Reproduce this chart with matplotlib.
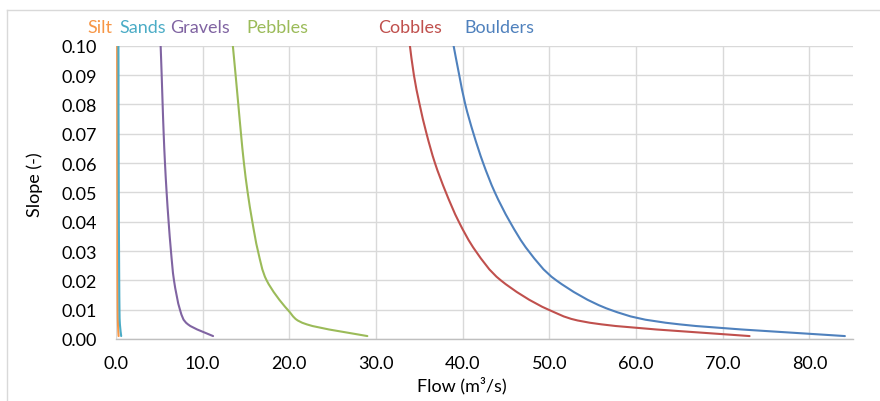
import matplotlib
matplotlib.use("Agg")
import matplotlib.pyplot as plt
from matplotlib.ticker import FormatStrFormatter
from matplotlib.lines import Line2D
from matplotlib.path import Path
from matplotlib.patches import PathPatch

plt.rcParams['font.family'] = ['Lato', 'DejaVu Sans']

# ---- data ----
series_names = ["Silt", "Sands", "Gravels", "Pebbles", "Cobbles", "Boulders"]

slope = [0.10, 0.09, 0.08, 0.07, 0.06, 0.05, 0.04, 0.03, 0.02, 0.01, 0.005, 0.001]

silt_flow = [0.14, 0.14, 0.15, 0.15, 0.15, 0.16, 0.17, 0.17, 0.18, 0.20, 0.23, 0.30]
sands_flow = [0.28, 0.29, 0.29, 0.30, 0.31, 0.32, 0.33, 0.35, 0.37, 0.40, 0.45, 0.60]
gravels_flow = [5.15, 5.27, 5.38, 5.50, 5.65, 5.84, 6.07, 6.34, 6.69, 7.38, 8.3, 11.2]
pebbles_flow = [13.48, 13.8, 14.11, 14.42, 14.76, 15.19, 15.73, 16.38, 17.38, 19.8, 22.0, 29.0]
cobbles_flow = [33.91, 34.37, 35.03, 35.83, 36.80, 38.06, 39.55, 41.5, 44.4, 49.9, 56.0, 73.1]
boulders_flow = [38.95, 39.6, 40.3, 41.25, 42.36, 43.71, 45.44, 47.6, 50.8, 57.0, 65.0, 84.1]

x_ticks = [0, 10, 20, 30, 40, 50, 60, 70, 80]
y_ticks = [0.00, 0.01, 0.02, 0.03, 0.04, 0.05, 0.06, 0.07, 0.08, 0.09, 0.10]

# ---- styling ----
colors = {"Silt": "#F79646", "Sands": "#4BACC6", "Gravels": "#8064A2",
          "Pebbles": "#9BBB59", "Cobbles": "#C0504D", "Boulders": "#4F81BD"}
flows = {"Silt": silt_flow, "Sands": sands_flow, "Gravels": gravels_flow,
         "Pebbles": pebbles_flow, "Cobbles": cobbles_flow, "Boulders": boulders_flow}
# label centers in figure pixels (layout only)
label_px = {"Silt": 100, "Sands": 142.5, "Gravels": 200, "Pebbles": 277,
            "Cobbles": 410, "Boulders": 499.5}

W, H = 880, 402
L, R, T, B = 116, 852.7, 46.7, 340
FS = 13


def smooth_path(xs, ys):
    """Spreadsheet-style 'smoothed line' through the points, drawn as
    cubic Bezier segments (Catmull-Rom control points)."""
    pts = list(zip(xs, ys))
    n = len(pts)
    verts = [pts[0]]
    codes = [Path.MOVETO]
    for i in range(n - 1):
        p0 = pts[i - 1] if i > 0 else pts[i]
        p1 = pts[i]
        p2 = pts[i + 1]
        p3 = pts[i + 2] if i + 2 < n else pts[i + 1]
        c1 = (p1[0] + (p2[0] - p0[0]) / 6.0, p1[1] + (p2[1] - p0[1]) / 6.0)
        c2 = (p2[0] - (p3[0] - p1[0]) / 6.0, p2[1] - (p3[1] - p1[1]) / 6.0)
        verts += [c1, c2, p2]
        codes += [Path.CURVE4, Path.CURVE4, Path.CURVE4]
    return Path(verts, codes)


fig = plt.figure(figsize=(W / 100, H / 100), dpi=100)
ax = fig.add_axes([L / W, 1 - B / H, (R - L) / W, (B - T) / H])

for name in series_names:
    patch = PathPatch(smooth_path(flows[name], slope), facecolor='none',
                      edgecolor=colors[name], lw=1.5, capstyle='round',
                      joinstyle='round', zorder=3)
    ax.add_patch(patch)

ax.set_xlim(0, 85)
ax.set_ylim(0, 0.1)
ax.set_xticks(x_ticks)
ax.set_yticks(y_ticks)
ax.xaxis.set_major_formatter(FormatStrFormatter('%.1f'))
ax.yaxis.set_major_formatter(FormatStrFormatter('%.2f'))
ax.grid(True, color="#D9D9D9", lw=1.0, zorder=0)
ax.set_axisbelow(True)
for s in ["top", "right", "left"]:
    ax.spines[s].set_visible(False)
ax.spines["bottom"].set_color("#BFBFBF")
ax.spines["bottom"].set_linewidth(1.0)
ax.tick_params(axis='both', length=0, labelsize=FS, colors="#000000")
ax.tick_params(axis='y', pad=13.5)
ax.tick_params(axis='x', pad=11.5)

fig.text(462 / W, 1 - 386 / H, "Flow (m³/s)", ha='center', va='center', fontsize=FS)
fig.text(35 / W, 1 - 185 / H, "Slope (-)", ha='center', va='center', rotation=90, fontsize=FS)

for name in series_names:
    fig.text(label_px[name] / W, 1 - 33 / H, name, ha='center', va='baseline',
             fontsize=FS, color=colors[name])

# chart border (left and top visible)
fig.add_artist(Line2D([6.5 / W, 6.5 / W], [0, 1 - 10.5 / H], color="#D9D9D9", lw=1.0))
fig.add_artist(Line2D([6.5 / W, 1], [1 - 10.5 / H, 1 - 10.5 / H], color="#D9D9D9", lw=1.0))

fig.savefig("out.png", dpi=100)
